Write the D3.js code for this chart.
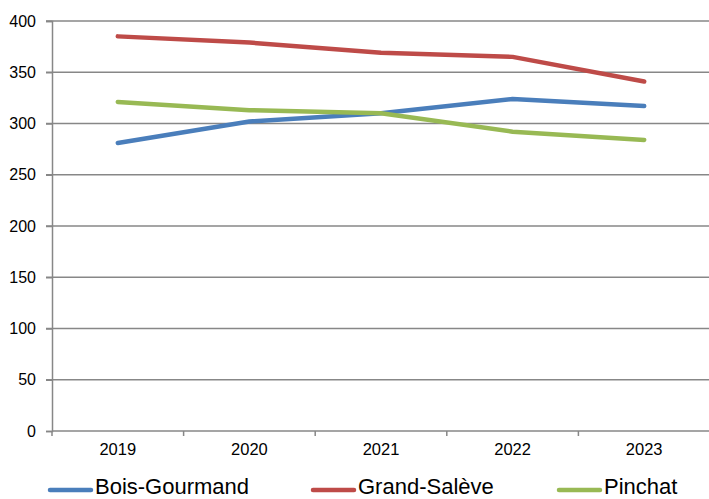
<!DOCTYPE html>
<html>
<head>
<meta charset="utf-8">
<script src="https://cdn.jsdelivr.net/npm/d3@7"></script>
<style>
  html, body { margin: 0; padding: 0; background: #fff; }
  svg { display: block; font-family: "Liberation Sans", Arial, sans-serif; }
</style>
</head>
<body>
<svg id="chart" width="709" height="499"></svg>
<script>
const years = ["2019", "2020", "2021", "2022", "2023"];
const boisGourmand = [281, 302, 310, 324, 317];
const grandSaleve = [385, 379, 369, 365, 341];
const pinchat = [321, 313, 310, 292, 284];
const yTicks = [0, 50, 100, 150, 200, 250, 300, 350, 400];

const series = [
  { name: "Bois-Gourmand", values: boisGourmand, color: "#4A7EBB" },
  { name: "Grand-Salève", values: grandSaleve, color: "#BE4B48" },
  { name: "Pinchat", values: pinchat, color: "#98B954" }
];

const svg = d3.select("#chart");
const plotLeft = 52, plotRight = 710, plotTop = 21, plotBottom = 431;

const x = d3.scaleBand().domain(years).range([plotLeft, plotRight]);
const y = d3.scaleLinear().domain([0, 400]).range([plotBottom, plotTop]);

// horizontal gridlines
svg.append("g")
  .selectAll("line")
  .data(yTicks.filter(d => d > 0))
  .join("line")
  .attr("x1", plotLeft - 6).attr("x2", 709)
  .attr("y1", d => y(d)).attr("y2", d => y(d))
  .attr("stroke", "#878787").attr("stroke-width", 1.5);

// y axis
const yAxis = svg.append("g")
  .attr("transform", `translate(${plotLeft},0)`)
  .call(d3.axisLeft(y).tickValues(yTicks).tickSize(6).tickPadding(10));
yAxis.select(".domain").attr("stroke", "#878787").attr("stroke-width", 1.5);
yAxis.selectAll(".tick line").attr("stroke", "#878787").attr("stroke-width", 1.5);
yAxis.selectAll("text").attr("font-size", 16).attr("fill", "#000")
  .attr("font-family", "Liberation Sans, Arial, sans-serif");

// x axis with tick marks on the category boundaries
const xAxis = svg.append("g")
  .attr("transform", `translate(0,${plotBottom})`)
  .call(d3.axisBottom(x).tickSize(0).tickPadding(12));
xAxis.select(".domain").attr("d", `M${plotLeft},0H709`).attr("stroke", "#878787").attr("stroke-width", 1.5);
xAxis.selectAll("text").attr("font-size", 16.5).attr("fill", "#000")
  .attr("font-family", "Liberation Sans, Arial, sans-serif");
svg.append("g")
  .selectAll("line")
  .data(years.map(d => x(d)))
  .join("line")
  .attr("x1", d => d).attr("x2", d => d)
  .attr("y1", plotBottom).attr("y2", plotBottom + 5)
  .attr("stroke", "#878787").attr("stroke-width", 1.5);

// series lines
const line = d3.line()
  .x((d, i) => x(years[i]) + x.bandwidth() / 2)
  .y(d => y(d));

svg.append("g")
  .selectAll("path")
  .data(series)
  .join("path")
  .attr("d", d => line(d.values))
  .attr("fill", "none")
  .attr("stroke", d => d.color)
  .attr("stroke-width", 4.5)
  .attr("stroke-linecap", "round")
  .attr("stroke-linejoin", "round");

// legend
const legendX = [48, 311, 557];
const legend = svg.append("g")
  .selectAll("g")
  .data(series)
  .join("g")
  .attr("transform", (d, i) => `translate(${legendX[i]},490)`);
legend.append("line")
  .attr("x1", 2).attr("x2", 43)
  .attr("stroke", d => d.color).attr("stroke-width", 4.5)
  .attr("stroke-linecap", "round");
legend.append("text")
  .attr("x", 47).attr("y", 4.3)
  .attr("font-size", 22)
  .attr("fill", "#000")
  .text(d => d.name);
</script>
</body>
</html>
